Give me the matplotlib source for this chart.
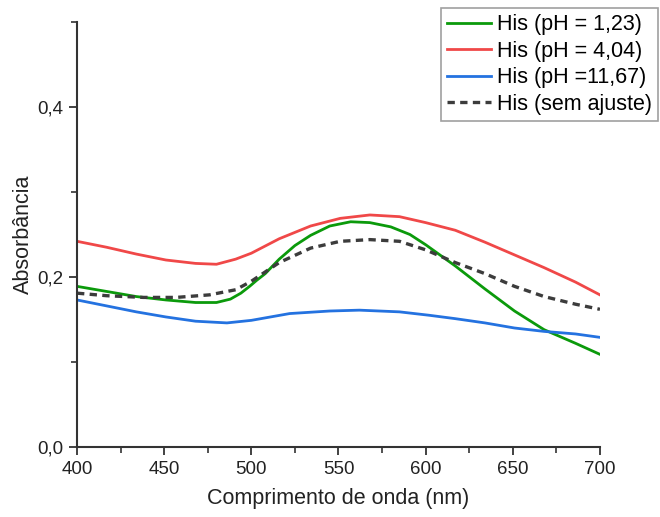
import matplotlib
matplotlib.use("Agg")
import matplotlib.pyplot as plt
from matplotlib.ticker import MultipleLocator, FuncFormatter

plt.rcParams['font.family'] = ['Liberation Sans', 'DejaVu Sans']

# Absorbance spectra of histidine at different pH values
wl_ph123 = [400, 417, 434, 451, 468, 480, 488, 494, 499, 503, 508, 516, 525, 534, 545, 557,
            568, 580, 591, 600, 617, 634, 651, 668, 686, 700]
abs_ph123 = [0.189, 0.183, 0.177, 0.173, 0.170, 0.170, 0.174, 0.181, 0.189, 0.196, 0.204,
             0.221, 0.237, 0.249, 0.260, 0.265, 0.264, 0.259, 0.250, 0.238, 0.213, 0.186,
             0.160, 0.138, 0.122, 0.109]

wl_ph404 = [400, 417, 434, 451, 468, 480, 491, 500, 516, 534, 551, 568, 585, 600, 617, 634,
            651, 668, 686, 700]
abs_ph404 = [0.242, 0.235, 0.227, 0.220, 0.216, 0.215, 0.221, 0.228, 0.245, 0.260, 0.269,
             0.273, 0.271, 0.264, 0.255, 0.241, 0.226, 0.211, 0.194, 0.179]

wl_ph1167 = [400, 417, 434, 451, 468, 486, 500, 522, 545, 562, 585, 602, 617, 634, 651, 668,
             686, 700]
abs_ph1167 = [0.173, 0.166, 0.159, 0.153, 0.148, 0.146, 0.149, 0.157, 0.160, 0.161, 0.159,
              0.155, 0.151, 0.146, 0.140, 0.136, 0.133, 0.129]

wl_raw = [400, 417, 438, 457, 476, 491, 500, 516, 534, 551, 568, 585, 600, 617, 634, 651,
          668, 686, 700]
abs_raw = [0.181, 0.178, 0.176, 0.176, 0.179, 0.185, 0.195, 0.217, 0.234, 0.242, 0.244,
           0.242, 0.232, 0.217, 0.204, 0.189, 0.177, 0.168, 0.162]

labels = ["His (pH = 1,23)", "His (pH = 4,04)", "His (pH =11,67)", "His (sem ajuste)"]

fig = plt.figure(figsize=(6.6, 5.17), dpi=100)
ax = fig.add_axes([0.1167, 0.1354, 0.7923, 0.822])

lw = 2.0
ax.plot(wl_ph123, abs_ph123, color='#0b9a0b', lw=lw, label=labels[0])
ax.plot(wl_ph404, abs_ph404, color='#f04848', lw=lw, label=labels[1])
ax.plot(wl_ph1167, abs_ph1167, color='#2472e0', lw=lw, label=labels[2])
ax.plot(wl_raw, abs_raw, color='#3c3c3c', lw=2.4, ls=(0, (2.2, 1.6)), label=labels[3])

ax.set_xlim(400, 700)
ax.set_ylim(0, 0.5)
ax.xaxis.set_major_locator(MultipleLocator(50))
ax.xaxis.set_minor_locator(MultipleLocator(25))
ax.yaxis.set_major_locator(MultipleLocator(0.2))
ax.yaxis.set_minor_locator(MultipleLocator(0.1))
ax.yaxis.set_major_formatter(FuncFormatter(lambda v, p: f"{v:.1f}".replace('.', ',')))

for s in ['top', 'right']:
    ax.spines[s].set_visible(False)
for s in ['left', 'bottom']:
    ax.spines[s].set_linewidth(1.5)
    ax.spines[s].set_color('#333333')

ax.tick_params(which='major', direction='out', length=6, width=1.3, labelsize=13.5,
               colors='#333333', labelcolor='#222222', pad=4)
ax.tick_params(which='minor', direction='out', length=4, width=1.2, colors='#333333')

ax.set_xlabel("Comprimento de onda (nm)", fontsize=15.5, color='#222222', labelpad=7)
ax.set_ylabel("Absorbância", fontsize=15.5, color='#222222', labelpad=2)

leg = fig.legend(loc='upper right', bbox_to_anchor=(0.997, 0.985), fontsize=15.5,
                 frameon=True, fancybox=False, handlelength=2.05, handletextpad=0.25,
                 borderpad=0.3, labelspacing=0.26, borderaxespad=0)
leg.get_frame().set_edgecolor('#888888')
leg.get_frame().set_linewidth(1.2)

fig.savefig("out.png", dpi=100)
